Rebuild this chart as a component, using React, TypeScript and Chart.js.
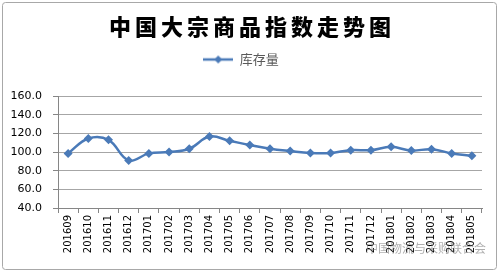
import React, { useEffect, useRef } from "react";
import { Chart, registerables } from "chart.js";

Chart.register(...registerables);

const TITLE = "中国大宗商品指数走势图";
const SERIES_NAME = "库存量";
const WATERMARK = "中国物流与采购联合会";
const categories = [
  "201609", "201610", "201611", "201612", "201701", "201702", "201703",
  "201704", "201705", "201706", "201707", "201708", "201709", "201710",
  "201711", "201712", "201801", "201802", "201803", "201804", "201805",
];
const inventory = [
  98.5, 114.5, 113, 91, 98.5, 100, 103.5, 116.5, 112, 107.5, 103.5,
  101, 99, 99, 102, 102, 105.5, 101.5, 103, 98.5, 96,
];
const yMin = 40;
const yMax = 160;
const yStep = 20;

const LINE_COLOR = "#4a7ab8";

function makeLegendIcon(): HTMLCanvasElement {
  const c = document.createElement("canvas");
  c.width = 30;
  c.height = 10;
  const ctx = c.getContext("2d")!;
  ctx.strokeStyle = LINE_COLOR;
  ctx.lineWidth = 2.5;
  ctx.beginPath();
  ctx.moveTo(0, 5);
  ctx.lineTo(30, 5);
  ctx.stroke();
  ctx.fillStyle = LINE_COLOR;
  ctx.beginPath();
  ctx.moveTo(15, 1);
  ctx.lineTo(19, 5);
  ctx.lineTo(15, 9);
  ctx.lineTo(11, 5);
  ctx.closePath();
  ctx.fill();
  return c;
}

export default function App() {
  const ref = useRef<HTMLCanvasElement>(null);

  useEffect(() => {
    document.body.style.margin = "0";
    const canvas = ref.current!;
    const icon = makeLegendIcon();

    const framePlugin = {
      id: "frame",
      beforeDraw(chart: any) {
        const ctx = chart.ctx;
        ctx.save();
        ctx.fillStyle = "#ffffff";
        ctx.fillRect(0, 0, chart.width, chart.height);
        ctx.restore();
      },
      afterInit(chart: any) {
        const legend = chart.legend;
        if (legend) {
          const orig = legend.fit;
          legend.fit = function () {
            orig.call(this);
            this.height = 53;
          };
        }
      },
      afterDraw(chart: any) {
        const ctx = chart.ctx;
        ctx.save();
        ctx.strokeStyle = "#a8a8a8";
        ctx.lineWidth = 1;
        ctx.beginPath();
        (ctx as any).roundRect(2.5, 2.5, chart.width - 5, chart.height - 4, 3);
        ctx.stroke();
        // title
        ctx.fillStyle = "#000000";
        ctx.font = "900 22px 'Noto Sans CJK SC'";
        (ctx as any).letterSpacing = "4px";
        ctx.textAlign = "center";
        ctx.textBaseline = "middle";
        ctx.fillText(TITLE, 252, 27);
        (ctx as any).letterSpacing = "0px";
        // watermark
        ctx.font = "12px 'Noto Sans CJK SC'";
        ctx.fillStyle = "rgba(110,110,110,0.55)";
        ctx.textAlign = "left";
        ctx.fillText(WATERMARK, 366, 248);
        ctx.restore();
      },
    };

    const chart = new Chart(canvas, {
      type: "line",
      data: {
        labels: categories,
        datasets: [
          {
            label: SERIES_NAME,
            data: inventory,
            borderColor: LINE_COLOR,
            backgroundColor: LINE_COLOR,
            borderWidth: 2.5,
            tension: 0.4,
            pointStyle: "rectRot",
            pointRadius: 4.5,
            pointBackgroundColor: LINE_COLOR,
            pointBorderColor: LINE_COLOR,
            pointBorderWidth: 0,
          },
        ],
      },
      options: {
        responsive: false,
        animation: false,
        devicePixelRatio: 1,
        layout: { padding: { top: 43, right: 17, left: 0, bottom: 0 } },
        plugins: {
          title: { display: false },
          tooltip: { enabled: false },
          legend: {
            display: true,
            position: "top",
            labels: {
              usePointStyle: true,
              pointStyleWidth: 30,
              padding: 10,
              color: "#595959",
              font: { family: "'Noto Sans CJK SC'", size: 13 },
              generateLabels: () => [
                {
                  text: SERIES_NAME,
                  pointStyle: icon as any,
                  fillStyle: LINE_COLOR,
                  strokeStyle: LINE_COLOR,
                  lineWidth: 0,
                  hidden: false,
                  datasetIndex: 0,
                  fontColor: "#595959",
                } as any,
              ],
            },
          },
        },
        scales: {
          x: {
            type: "category",
            offset: true,
            afterFit(scale: any) {
              scale.height = 271 - 208;
            },
            grid: {
              display: true,
              drawOnChartArea: false,
              drawTicks: true,
              tickLength: 5,
              offset: true,
              color: "#868686",
            },
            border: { display: true, color: "#868686", width: 1 },
            ticks: {
              minRotation: 90,
              maxRotation: 90,
              autoSkip: false,
              padding: 2,
              color: "#000000",
              font: { family: "'DejaVu Sans'", size: 10 },
            },
          },
          y: {
            min: yMin,
            max: yMax,
            afterFit(scale: any) {
              scale.width = 58;
            },
            grid: {
              color: "#a6a6a6",
              tickLength: 5,
              tickColor: "#868686",
            },
            border: { display: true, color: "#868686", width: 1 },
            ticks: {
              stepSize: yStep,
              padding: 11,
              color: "#000000",
              font: { family: "'DejaVu Sans'", size: 11 },
              callback: (v: any) => Number(v).toFixed(1),
            },
          },
        },
      },
      plugins: [framePlugin],
    });

    return () => chart.destroy();
  }, []);

  return <canvas ref={ref} width={499} height={271} style={{ display: "block", width: 499, height: 271 }} />;
}
